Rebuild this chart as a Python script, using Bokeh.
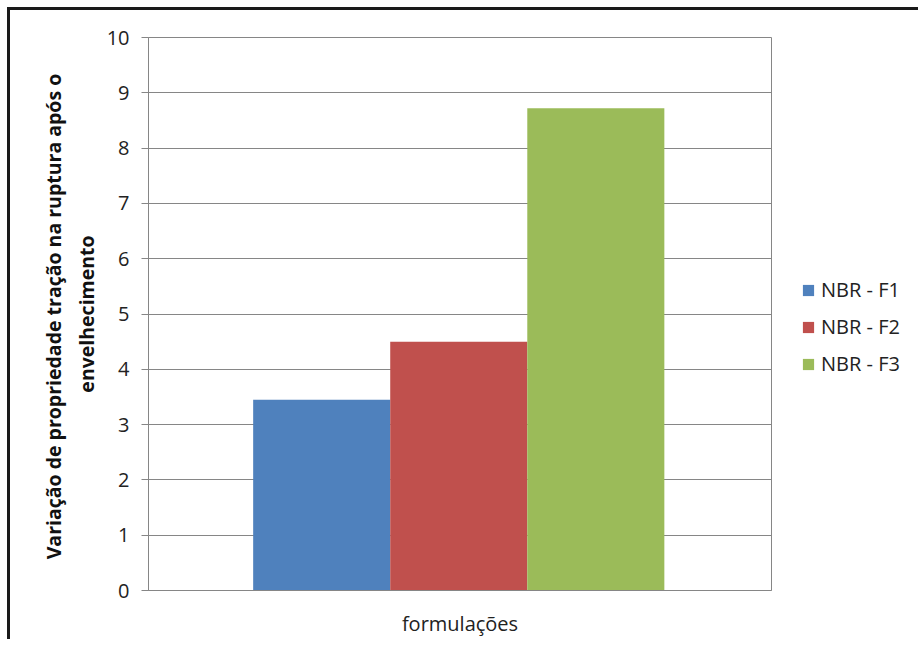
from bokeh.plotting import figure
from bokeh.models import FactorRange, ColumnDataSource, Legend, LegendItem
from bokeh.transform import dodge
from bokeh.embed import file_html
from bokeh.resources import INLINE

categories = ["formulações"]
series = ["NBR - F1", "NBR - F2", "NBR - F3"]
values = [3.45, 4.5, 8.72]
colors = ["#4F81BD", "#C0504D", "#9BBB59"]
offsets = [-0.222, -0.002, 0.218]
y_ticks = list(range(0, 11))

p = figure(x_range=FactorRange(factors=categories), y_range=(0, 10),
           frame_width=623, frame_height=553, output_backend="svg", toolbar_location=None,
           min_border_left=138, min_border_right=20, min_border_top=27, min_border_bottom=46)
p.styles = {"border-left": "3px solid #1a1a1a", "border-top": "3px solid #1a1a1a",
            "margin-left": "7px", "margin-top": "7px"}

items = []
for i, (name, val) in enumerate(zip(series, values)):
    src = ColumnDataSource(dict(x=categories, top=[val]))
    r = p.vbar(x=dodge("x", offsets[i], range=p.x_range), top="top", width=0.22,
               source=src, fill_color=colors[i], line_color=None)
    items.append(LegendItem(label=name, renderers=[r]))

legend = Legend(items=items, location=(30, 213), border_line_color=None,
                background_fill_alpha=0, padding=0, margin=0, spacing=10,
                glyph_width=14, glyph_height=14, label_height=20, label_standoff=6,
                label_text_font="Open Sans", label_text_font_size="20px",
                label_text_color="#222222")
p.add_layout(legend, "right")

p.yaxis.ticker = y_ticks
p.yaxis.axis_line_color = "#868686"
p.yaxis.major_tick_line_color = "#868686"
p.yaxis.major_tick_out = 7
p.yaxis.major_tick_in = 0
p.yaxis.minor_tick_line_color = None
p.yaxis.major_label_text_font = "Open Sans"
p.yaxis.major_label_text_font_size = "20px"
p.yaxis.major_label_text_color = "#222222"
p.yaxis.major_label_standoff = 12
p.yaxis.axis_label = "Variação de propriedade tração na ruptura  após o\nenvelhecimento"
p.yaxis.axis_label_text_font = "Open Sans"
p.yaxis.axis_label_text_font_size = "19.5px"
p.yaxis.axis_label_text_font_style = "bold"
p.yaxis.axis_label_text_color = "#111111"
p.yaxis.axis_label_standoff = 4

p.xaxis.axis_line_color = "#868686"
p.xaxis.major_tick_line_color = None
p.xaxis.minor_tick_line_color = None
p.xaxis.major_label_text_font = "Open Sans"
p.xaxis.major_label_text_font_size = "20px"
p.xaxis.major_label_text_color = "#222222"
p.xaxis.major_label_standoff = 13

p.xgrid.grid_line_color = None
p.ygrid.grid_line_color = "#868686"
p.ygrid.ticker = y_ticks
p.outline_line_color = "#868686"
p.outline_line_width = 1

open("out.html", "w").write(file_html(p, INLINE))
